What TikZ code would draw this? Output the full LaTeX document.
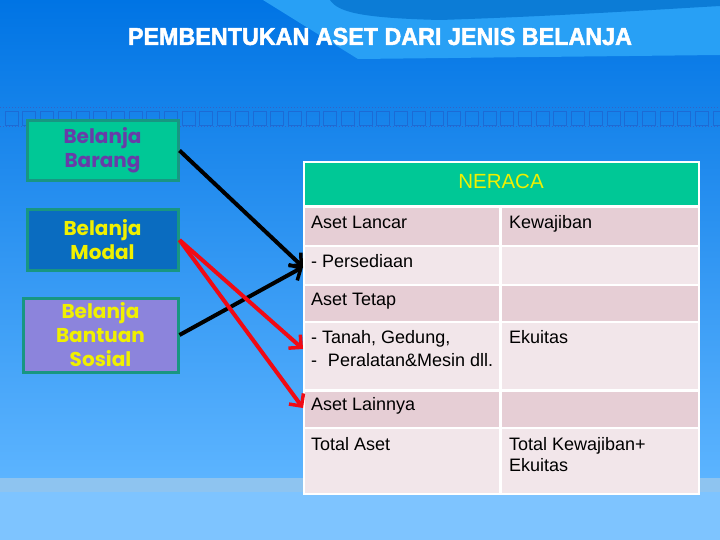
\documentclass[tikz,border=0pt]{standalone}
\usepackage{fontspec}
\setmainfont{Liberation Sans}
\newfontfamily\boxfont{Poppins}
\newfontfamily\titlefont[FakeBold=2]{Liberation Sans Bold}
\usetikzlibrary{arrows.meta}
\definecolor{bgtop}{RGB}{0,116,228}
\definecolor{bgbot}{RGB}{92,180,255}
\definecolor{bandlight}{RGB}{40,160,245}
\definecolor{banddark}{RGB}{12,124,214}
\definecolor{stripe}{RGB}{142,196,240}
\definecolor{bottombg}{RGB}{126,196,255}
\definecolor{filmc}{RGB}{50,100,200}
\definecolor{tgreen}{RGB}{0,200,150}
\definecolor{tborder}{RGB}{24,150,130}
\definecolor{modalc}{RGB}{10,108,192}
\definecolor{bantuanc}{RGB}{140,132,220}
\definecolor{purpletxt}{RGB}{104,60,168}
\definecolor{yelltxt}{RGB}{240,240,0}
\definecolor{rowdark}{RGB}{230,206,213}
\definecolor{rowlight}{RGB}{242,230,234}
\definecolor{arrred}{RGB}{240,10,20}
\tikzset{
  srcbox/.style={draw=tborder, line width=3pt, minimum width=#1, align=center,
    font=\boxfont\bfseries\fontsize{20}{24}\selectfont, inner sep=0pt},
  cellt/.style={anchor=base west, inner sep=0pt, font=\fontsize{18}{21}\selectfont},
  conn/.style={line width=4pt, -{Straight Barb[length=9pt,width=18pt,line width=3.5pt]}},
}
\begin{document}
\begin{tikzpicture}[x=1pt,y=-1pt]
\useasboundingbox (0,0) rectangle (720,540);
% background
\shade[top color=bgtop, bottom color=bgbot] (0,0) rectangle (720,478);
\fill[stripe] (0,478) rectangle (720,492);
\fill[bottombg] (0,492) rectangle (720,540);
\fill[bandlight] (263,0) -- (358,59) -- (720,55) -- (720,0) -- cycle;
\fill[banddark] (330,0) .. controls (338,12) and (360,18) .. (440,20) .. controls (560,16) and (650,10) .. (720,6) -- (720,0) -- cycle;
% film strip
\draw[filmc, dotted, line width=1pt] (0,108) -- (720,108);
\draw[filmc, dotted, line width=1pt] (0,127) -- (720,127);
\foreach \i in {0,...,40} {
  \draw[filmc!55!bgtop, line width=0.6pt] ({5+17.7*\i},111) rectangle ++(13,14);
}
% title
\node (title) at (380,36.5) {\color{white}\resizebox{504pt}{17pt}{\titlefont PEMBENTUKAN ASET DARI JENIS BELANJA}};
% source boxes
\node[srcbox=151pt, minimum height=60pt, fill=tgreen, text=purpletxt] (barang) at (102.5,150.5) {Belanja\\Barang};
\node[srcbox=151pt, minimum height=61pt, fill=modalc, text=yelltxt] (modal) at (102.5,240) {Belanja\\Modal};
\node[srcbox=155pt, minimum height=74pt, fill=bantuanc, text=yelltxt] (bantuan) at (100.5,335) {Belanja\\Bantuan\\Sosial};
% table
\fill[white] (303,161) rectangle (700,495);
\fill[tgreen] (305,163) rectangle (698,205);
\foreach \ya/\yb/\c in {208/245/rowdark, 247/284/rowlight, 286/321/rowdark, 323/389/rowlight, 392/427/rowdark, 429/493/rowlight} {
  \fill[\c] (305,\ya) rectangle (499,\yb);
  \fill[\c] (502,\ya) rectangle (698,\yb);
}
\node[anchor=base, inner sep=0pt, font=\fontsize{20.5}{24}\selectfont, text=yelltxt] (neraca) at (501,189) {NERACA};
\node[cellt] (alancar) at (311,229) {Aset Lancar};
\node[cellt] (kewajiban) at (509,229) {Kewajiban};
\node[cellt] (persediaan) at (311,267) {- Persediaan};
\node[cellt] (atetap) at (311,305) {Aset Tetap};
\node[cellt] (tanah) at (311,343) {- Tanah, Gedung,};
\node[cellt] (peralatan) at (311,366) {-\hspace{0.6em}Peralatan\&Mesin dll.};
\node[cellt] (ekuitas) at (509,343) {Ekuitas};
\node[cellt] (alain) at (311,410) {Aset Lainnya};
\node[cellt] (total) at (311,450) {Total Aset};
\node[cellt] (totalkw) at (509,450) {Total Kewajiban+};
\node[cellt] (totalek) at (509,471) {Ekuitas};
% arrow targets
\coordinate (tpers) at (303,267);
\coordinate (ttanah) at (303,349);
\coordinate (tlain) at (303,408);
% connectors
\draw[conn, black] (barang.east) -- (tpers);
\draw[conn, black] (bantuan.east) -- (tpers);
\draw[conn, arrred] (modal.east) -- (ttanah);
\draw[conn, arrred] (modal.east) -- (tlain);
\end{tikzpicture}
\end{document}
